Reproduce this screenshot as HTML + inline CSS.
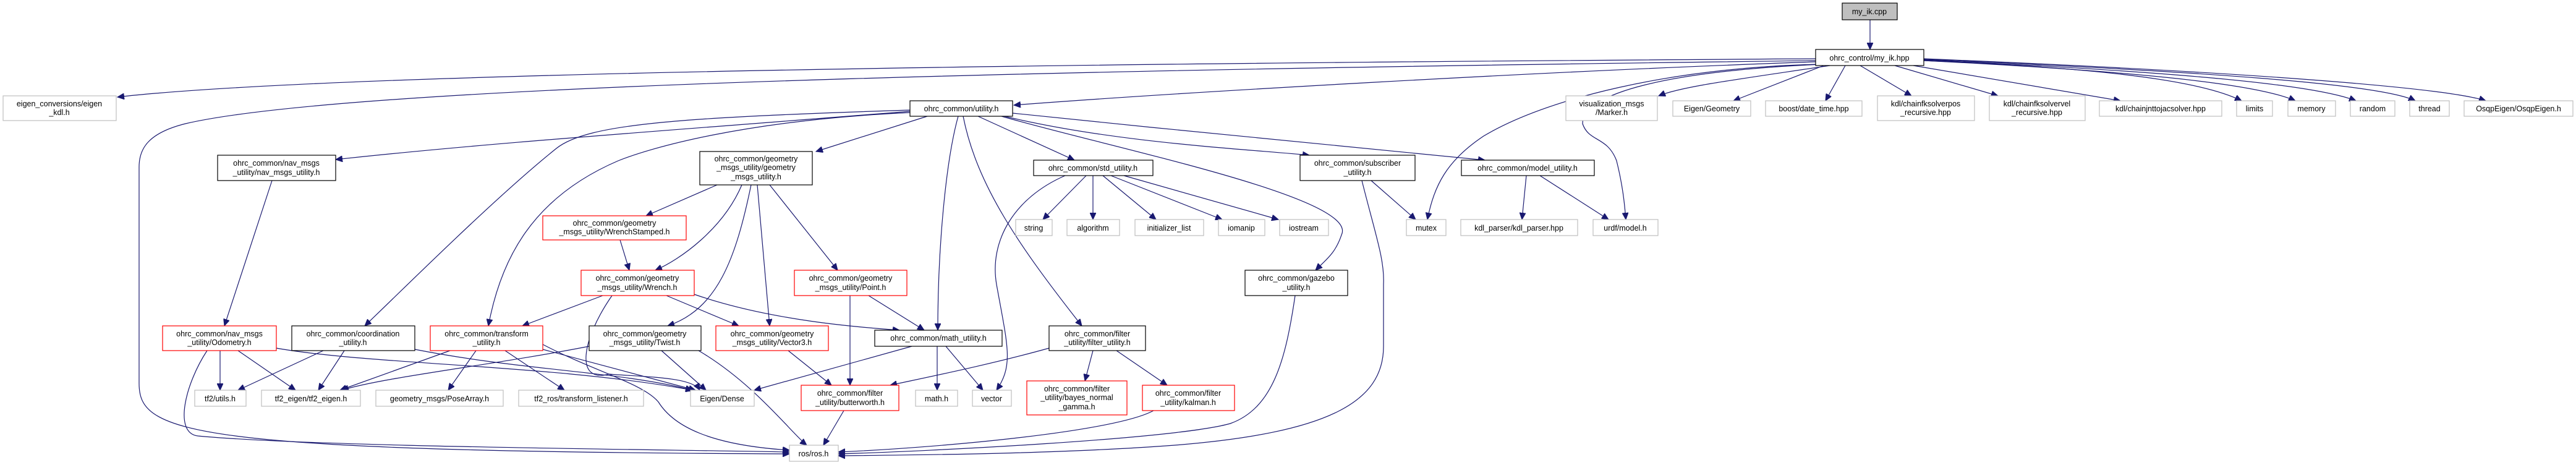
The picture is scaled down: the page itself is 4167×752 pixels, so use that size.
<!DOCTYPE html>
<html><head><meta charset="utf-8"><style>
html,body{margin:0;padding:0;background:#fff}
svg{display:block}
text{font-family:"Liberation Sans",sans-serif;font-size:12.5px;fill:#000;text-anchor:middle}
.e{fill:none;stroke:#191970;stroke-width:1.2}
.b{fill:#fff;stroke:#000;stroke-width:1.2}
.g{fill:#fff;stroke:#bfbfbf;stroke-width:1.2}
.r{fill:#fff;stroke:#ff0000;stroke-width:1.2}
</style></head><body>
<svg width="4167" height="752" viewBox="0 0 4167 752" xmlns="http://www.w3.org/2000/svg">
<defs><marker id="a" markerUnits="userSpaceOnUse" markerWidth="12" markerHeight="10" refX="11" refY="5" orient="auto"><path d="M0,0 L11,5 L0,10 z" fill="#191970" stroke="#191970"/></marker></defs>
<g class="e" marker-end="url(#a)">
<path d="M3025,32 L3025,80"/>
<path d="M2937,95 C2200,100 600,110 190,157"/>
<path d="M2937,98 C2000,110 600,130 300,200 C240,215 225,240 225,270 L225,620 C225,700 300,730 1277,734"/>
<path d="M2937,100 C2500,115 1900,150 1640,170"/>
<path d="M2940,104 C2700,110 2500,160 2400,220 C2340,260 2320,300 2309,355"/>
<path d="M2960,106 C2800,130 2720,140 2683,155"/>
<path d="M2945,104 C2700,115 2560,150 2560,200 C2570,230 2600,220 2615,260 C2625,300 2628,330 2630,355"/>
<path d="M2950,106 L2804,163"/>
<path d="M2985,106 L2953,163"/>
<path d="M3009,106 L3092,155"/>
<path d="M3065,106 L3232,155"/>
<path d="M3095,106 L3430,163"/>
<path d="M3112,98 C3400,110 3560,130 3626,163"/>
<path d="M3112,98 C3450,115 3650,135 3713,163"/>
<path d="M3112,97 C3500,115 3740,135 3811,163"/>
<path d="M3112,96 C3550,115 3850,135 3907,163"/>
<path d="M3112,95 C3600,115 3950,140 4021,163"/>
<path d="M1472,180 C1100,210 800,230 543,258"/>
<path d="M1472,178 C1100,190 950,200 900,240 C800,320 650,470 590,527"/>
<path d="M1472,182 C1200,195 1050,240 1000,260 C860,320 810,420 790,527"/>
<path d="M1500,188 L1320,245"/>
<path d="M1550,188 C1530,260 1517,400 1517,534"/>
<path d="M1558,188 C1580,300 1650,400 1750,527"/>
<path d="M1582,188 L1738,259"/>
<path d="M1625,188 C1800,230 2000,240 2118,251"/>
<path d="M1638,183 C1900,210 2200,240 2402,259"/>
<path d="M1620,188 C1800,240 2200,320 2170,380 C2160,410 2145,420 2128,437"/>
<path d="M1475,560 L1220,631"/>
<path d="M1123,476 C1250,520 1400,530 1455,534"/>
<path d="M1405,478 L1495,534"/>
<path d="M1375,478 L1375,623"/>
<path d="M1275,567 L1345,623"/>
<path d="M953,560 C800,590 620,610 553,631"/>
<path d="M1130,567 C1220,620 1280,700 1305,720"/>
<path d="M1070,567 L1142,631"/>
<path d="M990,478 C940,550 930,620 985,605 C1050,610 1120,610 1132,631"/>
<path d="M975,478 L845,527"/>
<path d="M1078,478 L1195,527"/>
<path d="M878,557 C960,600 1040,620 1065,650 C1090,690 1150,720 1277,728"/>
<path d="M878,565 L1125,631"/>
<path d="M728,567 L550,631"/>
<path d="M770,567 L725,631"/>
<path d="M817,567 L913,631"/>
<path d="M356,567 L356,631"/>
<path d="M385,567 L478,631"/>
<path d="M447,563 C600,590 900,590 1120,631"/>
<path d="M335,567 C300,620 280,700 320,705 C500,722 1000,726 1277,731"/>
<path d="M523,567 L385,631"/>
<path d="M557,567 L515,631"/>
<path d="M671,565 C850,600 1000,600 1120,631"/>
<path d="M440,292 L363,527"/>
<path d="M1160,299 L1045,349"/>
<path d="M1200,299 C1170,370 1100,420 1060,437"/>
<path d="M1215,299 C1190,420 1160,500 1080,527"/>
<path d="M1225,299 L1245,527"/>
<path d="M1245,299 L1355,437"/>
<path d="M1003,388 L1018,437"/>
<path d="M1757,284 L1687,355"/>
<path d="M1768,284 L1768,355"/>
<path d="M1784,284 L1870,355"/>
<path d="M1797,284 L1977,355"/>
<path d="M1818,284 L2068,355"/>
<path d="M1723,284 C1640,320 1600,390 1612,460 C1630,560 1640,590 1612,631"/>
<path d="M2218,292 L2290,355"/>
<path d="M2203,292 C2225,380 2240,420 2238,460 L2238,560 C2238,650 2150,700 1900,720 C1700,735 1450,736 1356,737"/>
<path d="M2469,284 L2462,355"/>
<path d="M2491,284 L2602,355"/>
<path d="M2095,478 C2080,580 2060,660 1990,685 C1900,710 1500,730 1356,734"/>
<path d="M1697,563 C1600,590 1500,610 1440,623"/>
<path d="M1768,567 L1755,616"/>
<path d="M1806,567 L1888,623"/>
<path d="M1866,664 C1800,700 1500,725 1356,731"/>
<path d="M1365,664 L1332,720"/>
<path d="M1516,560 L1516,631"/>
<path d="M1530,560 L1590,631"/>
</g>
<!-- nodes -->
<rect x="2980" y="5" width="89" height="27" fill="#bfbfbf" stroke="#000" stroke-width="1.2"/><text x="3024" y="23">my_ik.cpp</text>
<rect class="b" x="2937" y="80" width="175" height="26"/><text x="3024" y="98">ohrc_control/my_ik.hpp</text>
<rect class="g" x="5" y="155" width="183" height="40"/><text x="96" y="172">eigen_conversions/eigen</text><text x="96" y="186">_kdl.h</text>
<rect class="b" x="1472" y="163" width="166" height="25"/><text x="1555" y="180">ohrc_common/utility.h</text>
<rect class="g" x="2533" y="155" width="148" height="40"/><text x="2607" y="172">visualization_msgs</text><text x="2607" y="186">/Marker.h</text>
<rect class="g" x="2706" y="163" width="126" height="25"/><text x="2769" y="180">Eigen/Geometry</text>
<rect class="g" x="2856" y="163" width="156" height="25"/><text x="2934" y="180">boost/date_time.hpp</text>
<rect class="g" x="3037" y="155" width="157" height="40"/><text x="3115" y="172">kdl/chainfksolverpos</text><text x="3115" y="186">_recursive.hpp</text>
<rect class="g" x="3218" y="155" width="155" height="40"/><text x="3295" y="172">kdl/chainfksolvervel</text><text x="3295" y="186">_recursive.hpp</text>
<rect class="g" x="3396" y="163" width="198" height="25"/><text x="3495" y="180">kdl/chainjnttojacsolver.hpp</text>
<rect class="g" x="3618" y="163" width="58" height="25"/><text x="3647" y="180">limits</text>
<rect class="g" x="3701" y="163" width="77" height="25"/><text x="3739" y="180">memory</text>
<rect class="g" x="3802" y="163" width="72" height="25"/><text x="3838" y="180">random</text>
<rect class="g" x="3898" y="163" width="64" height="25"/><text x="3930" y="180">thread</text>
<rect class="g" x="3986" y="163" width="176" height="25"/><text x="4074" y="180">OsqpEigen/OsqpEigen.h</text>
<rect class="b" x="352" y="251" width="191" height="41"/><text x="447" y="268">ohrc_common/nav_msgs</text><text x="447" y="283">_utility/nav_msgs_utility.h</text>
<rect class="b" x="1132" y="245" width="182" height="54"/><text x="1223" y="261">ohrc_common/geometry</text><text x="1223" y="275">_msgs_utility/geometry</text><text x="1223" y="290">_msgs_utility.h</text>
<rect class="b" x="1672" y="259" width="193" height="25"/><text x="1768" y="276">ohrc_common/std_utility.h</text>
<rect class="b" x="2103" y="251" width="186" height="41"/><text x="2196" y="268">ohrc_common/subscriber</text><text x="2196" y="283">_utility.h</text>
<rect class="b" x="2364" y="259" width="215" height="25"/><text x="2471" y="276">ohrc_common/model_utility.h</text>
<rect class="r" x="878" y="349" width="232" height="39"/><text x="994" y="365">ohrc_common/geometry</text><text x="994" y="379">_msgs_utility/WrenchStamped.h</text>
<rect class="g" x="1643" y="355" width="59" height="26"/><text x="1672" y="373">string</text>
<rect class="g" x="1726" y="355" width="85" height="26"/><text x="1768" y="373">algorithm</text>
<rect class="g" x="1836" y="355" width="111" height="26"/><text x="1891" y="373">initializer_list</text>
<rect class="g" x="1971" y="355" width="75" height="26"/><text x="2008" y="373">iomanip</text>
<rect class="g" x="2070" y="355" width="79" height="26"/><text x="2109" y="373">iostream</text>
<rect class="g" x="2275" y="355" width="64" height="26"/><text x="2307" y="373">mutex</text>
<rect class="g" x="2363" y="355" width="189" height="26"/><text x="2457" y="373">kdl_parser/kdl_parser.hpp</text>
<rect class="g" x="2577" y="355" width="105" height="26"/><text x="2629" y="373">urdf/model.h</text>
<rect class="r" x="940" y="437" width="183" height="41"/><text x="1031" y="454">ohrc_common/geometry</text><text x="1031" y="469">_msgs_utility/Wrench.h</text>
<rect class="r" x="1285" y="437" width="182" height="41"/><text x="1376" y="454">ohrc_common/geometry</text><text x="1376" y="469">_msgs_utility/Point.h</text>
<rect class="b" x="2014" y="437" width="166" height="41"/><text x="2097" y="454">ohrc_common/gazebo</text><text x="2097" y="469">_utility.h</text>
<rect class="r" x="263" y="527" width="184" height="40"/><text x="355" y="544">ohrc_common/nav_msgs</text><text x="355" y="558">_utility/Odometry.h</text>
<rect class="b" x="472" y="527" width="199" height="40"/><text x="571" y="544">ohrc_common/coordination</text><text x="571" y="558">_utility.h</text>
<rect class="r" x="696" y="527" width="182" height="40"/><text x="787" y="544">ohrc_common/transform</text><text x="787" y="558">_utility.h</text>
<rect class="b" x="953" y="527" width="181" height="40"/><text x="1043" y="544">ohrc_common/geometry</text><text x="1043" y="558">_msgs_utility/Twist.h</text>
<rect class="r" x="1158" y="527" width="182" height="40"/><text x="1249" y="544">ohrc_common/geometry</text><text x="1249" y="558">_msgs_utility/Vector3.h</text>
<rect class="b" x="1415" y="534" width="206" height="26"/><text x="1518" y="551">ohrc_common/math_utility.h</text>
<rect class="b" x="1697" y="527" width="156" height="40"/><text x="1775" y="544">ohrc_common/filter</text><text x="1775" y="558">_utility/filter_utility.h</text>
<rect class="g" x="315" y="631" width="83" height="26"/><text x="356" y="649">tf2/utils.h</text>
<rect class="g" x="423" y="631" width="160" height="26"/><text x="503" y="649">tf2_eigen/tf2_eigen.h</text>
<rect class="g" x="608" y="631" width="206" height="26"/><text x="711" y="649">geometry_msgs/PoseArray.h</text>
<rect class="g" x="839" y="631" width="202" height="26"/><text x="940" y="649">tf2_ros/transform_listener.h</text>
<rect class="g" x="1117" y="631" width="103" height="26"/><text x="1168" y="649">Eigen/Dense</text>
<rect class="r" x="1296" y="623" width="158" height="41"/><text x="1375" y="640">ohrc_common/filter</text><text x="1375" y="655">_utility/butterworth.h</text>
<rect class="g" x="1481" y="631" width="68" height="26"/><text x="1515" y="649">math.h</text>
<rect class="g" x="1573" y="631" width="63" height="26"/><text x="1604" y="649">vector</text>
<rect class="r" x="1661" y="616" width="162" height="55"/><text x="1742" y="633">ohrc_common/filter</text><text x="1742" y="647">_utility/bayes_normal</text><text x="1742" y="662">_gamma.h</text>
<rect class="r" x="1848" y="623" width="149" height="41"/><text x="1922" y="640">ohrc_common/filter</text><text x="1922" y="655">_utility/kalman.h</text>
<rect class="g" x="1277" y="720" width="79" height="26"/><text x="1316" y="738">ros/ros.h</text>
</svg>
</body></html>
